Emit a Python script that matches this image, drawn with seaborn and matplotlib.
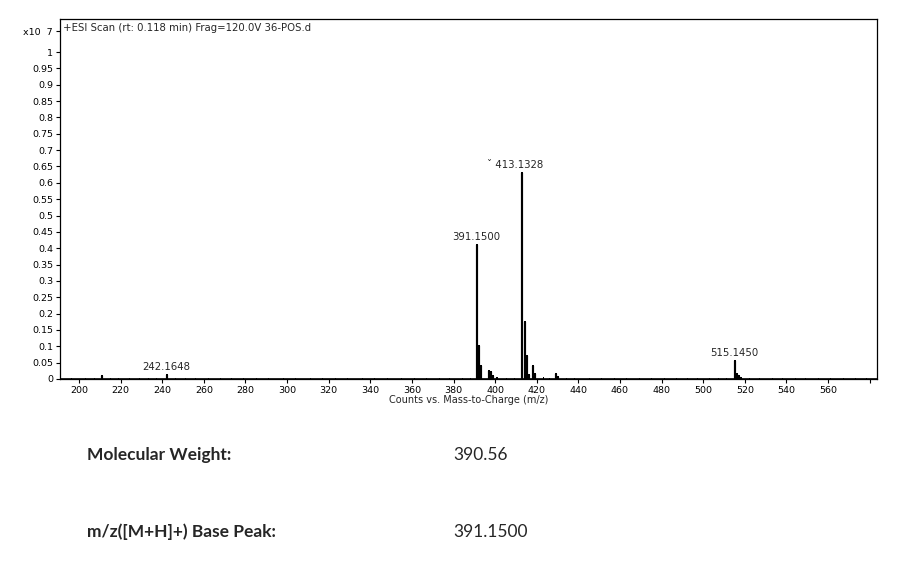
import numpy as np
import pandas as pd
import matplotlib
matplotlib.use('Agg')
import matplotlib.pyplot as plt
import seaborn as sns

# ===== data (intensity in units of 1e7 counts) =====
peak_mz = [211.0, 242.1648, 391.15, 392.15, 393.15, 397.1, 398.1, 399.1, 401.0,
           413.1328, 414.13, 415.13, 416.1, 418.1, 419.1, 429.1, 430.1,
           515.1450, 516.15, 517.15, 518.1]
peak_int = [0.010, 0.012, 0.410, 0.100, 0.040, 0.025, 0.020, 0.008, 0.004,
            0.630, 0.175, 0.070, 0.012, 0.040, 0.015, 0.016, 0.005,
            0.055, 0.015, 0.008, 0.004]

# low level baseline noise
noise_mz = [196, 203, 207, 215, 219, 224, 229, 233, 237, 246, 251, 256, 262, 268, 273,
            279, 285, 291, 298, 304, 311, 317, 323, 329, 336, 342, 348, 355, 361, 367,
            373, 378, 384, 388, 405, 409, 423, 426, 434, 438, 445, 451, 457, 463, 469,
            475, 481, 487, 492, 497, 503, 507, 511, 522, 527, 533, 538, 544, 549, 555,
            561, 567, 573, 578]
noise_int = [0.003, 0.004, 0.002, 0.003, 0.004, 0.002, 0.003, 0.004, 0.002, 0.004,
             0.003, 0.002, 0.003, 0.002, 0.003, 0.002, 0.003, 0.002, 0.003, 0.002,
             0.003, 0.002, 0.003, 0.002, 0.003, 0.002, 0.003, 0.004, 0.003, 0.002,
             0.003, 0.002, 0.003, 0.004, 0.004, 0.003, 0.005, 0.004, 0.003, 0.004,
             0.003, 0.002, 0.003, 0.002, 0.003, 0.002, 0.004, 0.003, 0.002, 0.003,
             0.002, 0.003, 0.004, 0.004, 0.003, 0.002, 0.003, 0.002, 0.003, 0.002,
             0.003, 0.002, 0.003, 0.002]

labelled_mz = [242.1648, 391.1500, 413.1328, 515.1450]
labelled_int = [0.012, 0.410, 0.630, 0.055]
labelled_txt = ['242.1648', '391.1500', '\u02c7 413.1328', '515.1450']

x_ticks = list(range(200, 581, 20))
x_tick_labels = [str(v) for v in range(200, 561, 20)] + ['']
y_ticks = [round(0.05 * i, 2) for i in range(21)]
y_tick_labels = ['0'] + [('%.2f' % v).rstrip('0').rstrip('.') for v in y_ticks[1:]]

title_txt = '+ESI Scan (rt: 0.118 min) Frag=120.0V 36-POS.d'
x_label = 'Counts vs. Mass-to-Charge (m/z)'
info_keys = ['Molecular Weight:', 'm/z([M+H]+) Base Peak:']
info_vals = ['390.56', '391.1500']


def sticks(mz, inten):
    # each peak becomes a vertical stick: (m,0) -> (m,h) -> (m,0)
    rows = []
    for i, (m, h) in enumerate(zip(mz, inten)):
        rows += [(i, m, 0.0), (i, m, h), (i, m, 0.0)]
    return pd.DataFrame(rows, columns=['stick', 'mz', 'intensity'])


df_peaks = sticks(peak_mz, peak_int)
df_noise = sticks(noise_mz, noise_int)

sns.set_style('ticks')
plt.rcParams['font.family'] = ['DejaVu Sans', 'Lato']

fig = plt.figure(figsize=(9.01, 5.68), dpi=100)
ax = fig.add_axes([60 / 901, 1 - 379 / 568, 817 / 901, 360 / 568])

# baseline
ax.plot([190.9, 583.5], [0, 0], color='black', lw=1.2)
sns.lineplot(data=df_noise, x='mz', y='intensity', units='stick', estimator=None,
             sort=False, color='black', lw=0.7, ax=ax)
sns.lineplot(data=df_peaks, x='mz', y='intensity', units='stick', estimator=None,
             sort=False, color='black', lw=1.5, ax=ax)

ax.set_xlim(190.9, 583.5)
ax.set_ylim(0, 1.101)
ax.set_xticks(x_ticks)
ax.set_xticklabels(x_tick_labels)
ax.set_yticks(y_ticks + [1.064])
ax.set_yticklabels(y_tick_labels + ['x10  7'])
ax.tick_params(axis='both', labelsize=6.8, length=3, width=0.8, pad=2, colors='black')
ax.set_xlabel(x_label, fontsize=7, labelpad=0)
ax.set_ylabel('')
for s in ax.spines.values():
    s.set_linewidth(0.9)
    s.set_color('black')

ax.text(0.004, 0.99, title_txt, transform=ax.transAxes, fontsize=7.3,
        ha='left', va='top')

for m, h, t in zip(labelled_mz, labelled_int, labelled_txt):
    dx = -5 if t.startswith('\u02c7') else 0
    ax.annotate(t, xy=(m, h), xytext=(dx, 2), textcoords='offset points',
                ha='center', va='bottom', fontsize=7.3)

# info lines under the chart
for k, v, y in zip(info_keys, info_vals, [455, 532]):
    fig.text(87 / 901, 1 - y / 568, k, fontsize=12.5, fontweight='bold',
             family=['Lato', 'DejaVu Sans'], va='center', ha='left')
    fig.text(453 / 901, 1 - y / 568, v, fontsize=12.5,
             family=['Lato', 'DejaVu Sans'], va='center', ha='left')

fig.savefig('out.png', dpi=100)
